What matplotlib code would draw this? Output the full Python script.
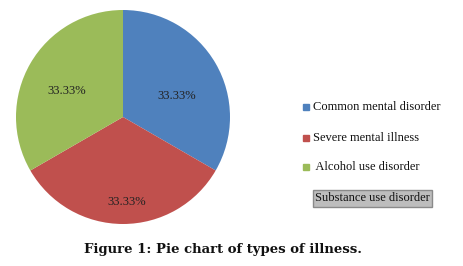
"""Pie chart of types of illness (Figure 1)."""
import matplotlib
matplotlib.use("Agg")
import matplotlib.pyplot as plt

CATEGORIES = ["Common mental disorder", "Severe mental illness",
              " Alcohol use disorder", "Substance use disorder"]
SHARES = [33.33, 33.33, 33.33, 0.0]
COLOURS = ["#4F81BD", "#C0504D", "#9BBB59", "#8064A2"]
# where each percentage label sits, in pie-radius units
LABEL_POS = [(0.50, 0.20), (0.03, -0.79), (-0.53, 0.24)]

W, H = 463, 266
fig = plt.figure(figsize=(W / 100, H / 100), dpi=100)

cx, cy, r = 123, 117, 107
ax = fig.add_axes([(cx - r) / W, (H - cy - r) / H, 2 * r / W, 2 * r / H])

shown = [(s, c) for s, c in zip(SHARES, COLOURS) if s > 0]
wedges, _, pct_texts = ax.pie(
    [s for s, _ in shown], colors=[c for _, c in shown],
    startangle=90, counterclock=False, autopct="%.2f%%",
    wedgeprops=dict(linewidth=0),
    textprops=dict(family="Liberation Serif", fontsize=9, color="#222222"))
for t, (px, py) in zip(pct_texts, LABEL_POS):
    t.set_position((px, py))
ax.set_xlim(-1, 1)
ax.set_ylim(-1, 1)
ax.set_aspect("equal")

# legend drawn by hand so the last (selected) entry keeps its grey box
rows_y = [107, 138, 167, 198]
for i, (name, colour) in enumerate(zip(CATEGORIES, COLOURS)):
    y = 1 - rows_y[i] / H
    if SHARES[i] > 0:
        fig.patches.append(plt.Rectangle(
            (303 / W, y - 3 / H), 6 / W, 6 / H, color=colour,
            transform=fig.transFigure, figure=fig))
        fig.text(313 / W, y, name, family="Liberation Serif", fontsize=9,
                 va="center", ha="left", color="#111111")
    else:
        fig.text(315 / W, y, name, family="Liberation Serif", fontsize=9,
                 va="center", ha="left", color="#111111",
                 bbox=dict(boxstyle="square,pad=0.2", facecolor="#BDBDBD",
                           edgecolor="#8a8a8a", linewidth=1.0))

fig.text(223 / W, 1 - 249 / H, "Figure 1: Pie chart of types of illness.",
         family="DejaVu Serif", fontweight="bold", fontsize=9.5,
         ha="center", va="center", color="#111111")

fig.savefig("out.png", dpi=100, facecolor="white")
